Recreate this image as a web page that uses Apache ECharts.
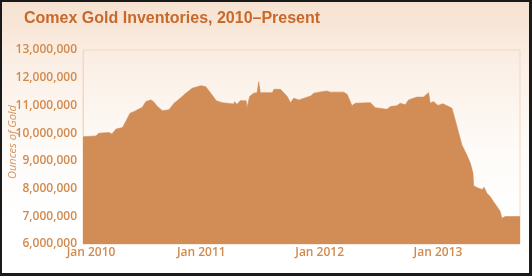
<!DOCTYPE html>
<html><head><meta charset="utf-8">
<script src="https://cdn.jsdelivr.net/npm/echarts@6/dist/echarts.min.js"></script>
<style>
html,body{margin:0;padding:0;background:#fff;}
#frame{position:absolute;left:0;top:0;width:532px;height:276px;box-sizing:border-box;border:2px solid #1a1a1a;border-right-width:3px;border-bottom-width:3px;background:linear-gradient(#f6e2d0 0%, #fbf0e7 25%, #fefbf8 55%, #ffffff 80%);}
#c{position:absolute;left:0;top:0;width:532px;height:276px;}
</style></head>
<body><div id="frame"></div><div id="c"></div>
<script>
// Comex gold inventories (ounces)
const dates = [
 '2010-01-01','2010-02-10','2010-02-19','2010-03-23','2010-03-31','2010-04-13','2010-05-03','2010-05-13',
 '2010-05-26','2010-06-08','2010-06-18','2010-07-03','2010-07-14','2010-07-29','2010-08-06','2010-08-19',
 '2010-09-03','2010-09-23','2010-10-09','2010-10-24','2010-11-14','2010-12-04','2010-12-30','2011-01-14',
 '2011-01-29','2011-02-16','2011-03-06','2011-03-11','2011-04-11','2011-04-13','2011-04-21','2011-05-01',
 '2011-05-19','2011-05-22','2011-05-30','2011-06-11','2011-06-22','2011-06-27','2011-07-02','2011-08-08',
 '2011-08-13','2011-09-02','2011-09-23','2011-10-03','2011-10-13','2011-10-29','2011-12-04','2011-12-14',
 '2011-12-30','2012-01-24','2012-02-03','2012-03-15','2012-03-26','2012-04-10','2012-04-20','2012-06-06',
 '2012-06-21','2012-07-27','2012-08-07','2012-08-27','2012-09-06','2012-09-22','2012-10-02','2012-10-28',
 '2012-11-17','2012-12-03','2012-12-08','2012-12-18','2013-01-01','2013-01-16','2013-02-03','2013-02-13',
 '2013-02-23','2013-03-06','2013-03-16','2013-03-31','2013-04-11','2013-04-19','2013-04-21','2013-05-06',
 '2013-05-18','2013-05-23','2013-06-01','2013-06-11','2013-06-21','2013-07-02','2013-07-12','2013-07-17',
 '2013-07-27','2013-09-11'
];
const ounces = [
 9870000, 9900000,10000000,10020000, 9970000,10150000,10200000,10420000,
 10720000,10780000,10840000,10930000,11140000,11200000,11140000,10960000,
 10810000,10840000,11080000,11220000,11440000,11620000,11710000,11680000,
 11460000,11170000,11100000,11040000,11050000,11130000,11040000,11170000,
 11170000,10920000,11320000,11440000,11460000,11850000,11460000,11460000,
 11580000,11580000,11320000,11100000,11260000,11200000,11340000,11440000,
 11480000,11520000,11480000,11480000,11400000,10990000,11080000,11100000,
 10920000,10860000,10960000,10990000,11080000,11020000,11200000,11300000,
 11300000,11460000,11080000,11140000,11000000,11060000,10960000,10900000,
 10480000,10000000, 9570000, 9210000, 8910000, 8550000, 8100000, 8010000,
 7970000, 8050000, 7830000, 7710000, 7530000, 7350000, 7170000, 6930000,
 6990000, 6990000
];
const xTickYears = [2010, 2011, 2012, 2013];
const yTicks = [6000000,7000000,8000000,9000000,10000000,11000000,12000000,13000000];
const titleText = 'Comex Gold Inventories, 2010\u2013Present';
const yName = 'Ounces of Gold';

function decYear(s){
  const d = Date.parse(s + 'T00:00:00Z');
  const y = new Date(d).getUTCFullYear();
  const a = Date.UTC(y,0,1), b = Date.UTC(y+1,0,1);
  return y + (d - a) / (b - a);
}
const seriesData = dates.map((d,i) => [decYear(d), ounces[i]]);
const xMax = decYear(dates[dates.length-1]);

const labelFont = {color:'#d18a4e', fontFamily:'Open Sans, sans-serif', fontSize:12, fontWeight:600};

const chart = echarts.init(document.getElementById('c'), null, {renderer:'canvas'});
chart.setOption({
  backgroundColor: 'transparent',
  animation: false,
  title: {
    text: titleText, left: 19, top: 6,
    textStyle: {fontFamily:'Liberation Sans, Arial, sans-serif', fontWeight:'bold', fontSize:16, color:'#c8682a'}
  },
  grid: {left: 83, right: 12, top: 50, bottom: 32, show: true, borderColor:'#f1d9c4', borderWidth:1,
         backgroundColor:'transparent', containLabel:false, outerBoundsMode:'none'},
  xAxis: {
    type: 'value', min: 2010, max: xMax, interval: 1,
    axisLine: {show:false},
    axisTick: {show:true, inside:true, length:4, lineStyle:{color:'#e8b48a'}},
    splitLine: {show:false},
    axisLabel: Object.assign({
      showMaxLabel: false, margin: 3, hideOverlap: false,
      formatter: v => xTickYears.includes(v) ? (v === 2010 ? '{f|Jan ' + v + '}' : 'Jan ' + v) : '',
      rich: {f: Object.assign({padding:[0,0,0,16]}, labelFont)}
    }, labelFont)
  },
  yAxis: {
    type: 'value', min: yTicks[0], max: yTicks[yTicks.length-1], interval: 1000000,
    name: yName, nameLocation: 'middle', nameRotate: 90, nameGap: 65, nameMoveOverlap: false,
    nameTextStyle: {fontStyle:'italic', fontSize:11, color:'#d8935a', fontFamily:'Open Sans, sans-serif', padding:[0,0,0,10]},
    axisLine: {show:true, lineStyle:{color:'#f1d9c4'}},
    axisTick: {show:false},
    splitLine: {show:false},
    axisLabel: Object.assign({
      margin: 6, hideOverlap: false,
      formatter: v => v.toLocaleString('en-US')
    }, labelFont)
  },
  series: [{
    type: 'line', data: seriesData, showSymbol: false, symbol: 'none',
    lineStyle: {width: 0.6, color:'#d28c55'},
    areaStyle: {color:'#d28c55', opacity:1},
    itemStyle: {color:'#d28c55'}
  }]
});
</script>
</body></html>
